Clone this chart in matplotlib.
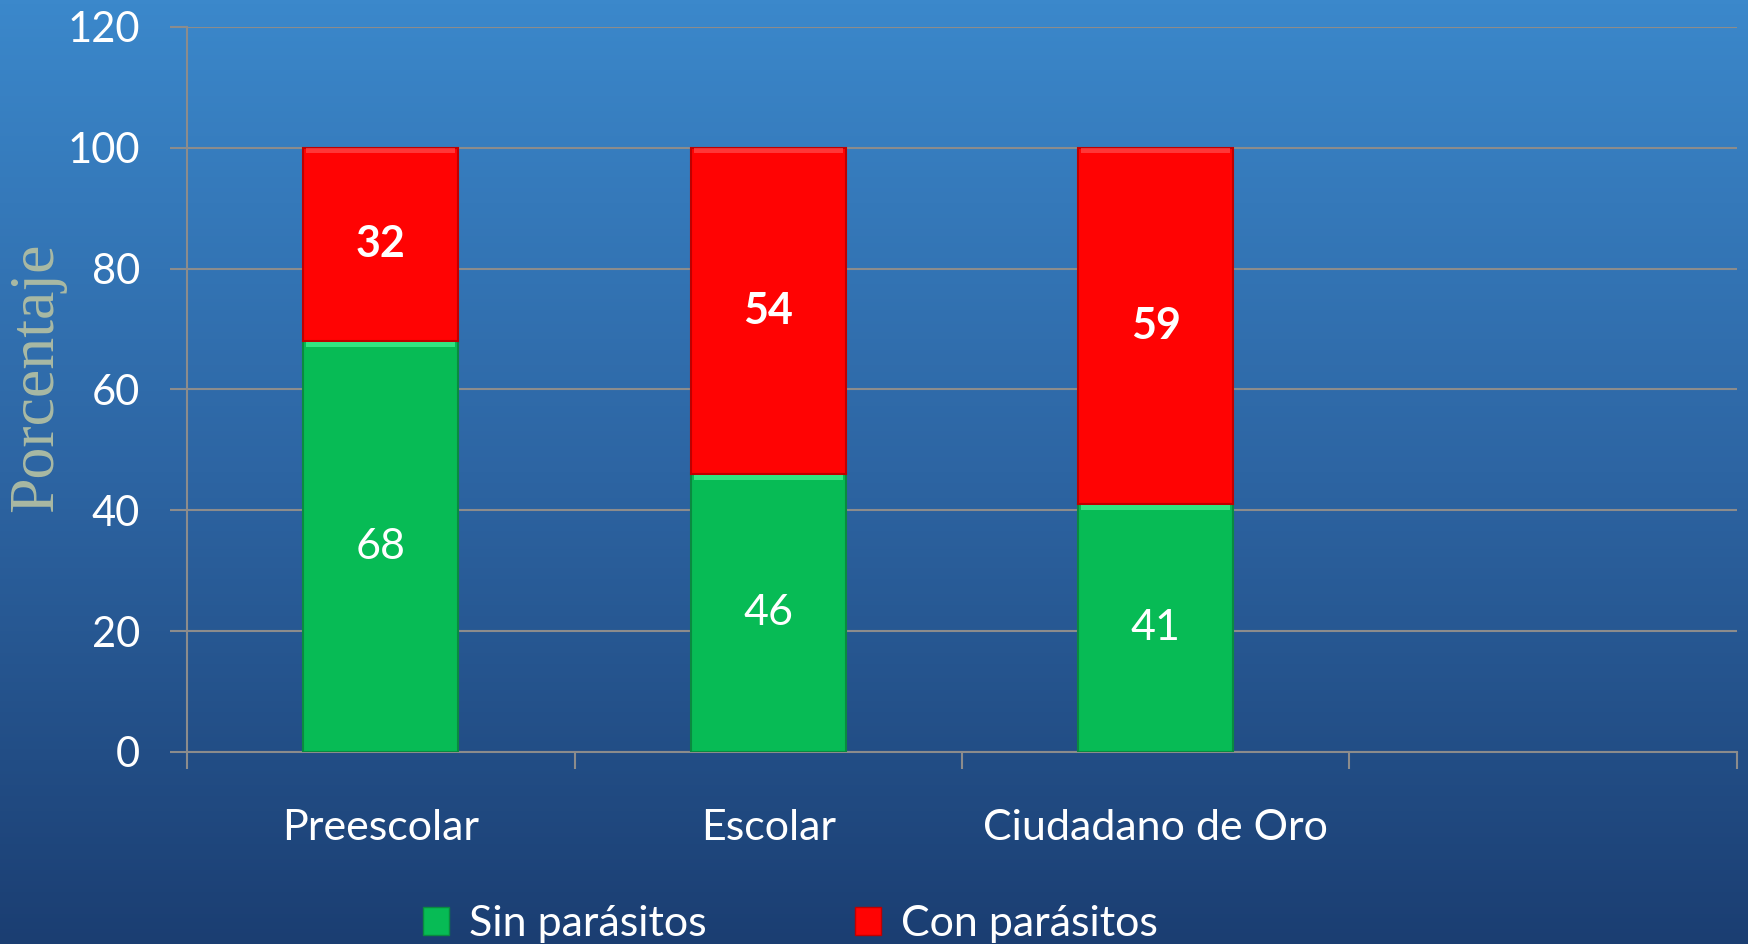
import numpy as np
import matplotlib.pyplot as plt
from matplotlib.patches import Patch
from matplotlib.colors import LinearSegmentedColormap

# datos
categorias = ['Preescolar', 'Escolar', 'Ciudadano de Oro']
sin_parasitos = [68, 46, 41]
con_parasitos = [32, 54, 59]
yticks = [0, 20, 40, 60, 80, 100, 120]
n_slots = 4

fuente = 'Lato'
verde = '#07bb55'
rojo = '#ff0303'
gris = '#8c8c8c'

fig = plt.figure(figsize=(17.48, 9.44), dpi=100)

# fondo degradado azul
bg = fig.add_axes([0, 0, 1, 1], zorder=-10)
cmap = LinearSegmentedColormap.from_list('fondo', ['#3b88cb', '#2d65a3', '#1b3e72'])
bg.imshow(np.linspace(0, 1, 256).reshape(-1, 1), aspect='auto', cmap=cmap,
          extent=[0, 1, 0, 1])
bg.axis('off')

ax = fig.add_axes([0.107, 0.2034, 0.8867, 0.768])
ax.patch.set_alpha(0)

x = np.arange(len(categorias))
ancho = 0.4
ax.bar(x, sin_parasitos, ancho, color=verde, edgecolor='#0a8a40',
       linewidth=1.5, zorder=3, label='Sin parásitos')
ax.bar(x, con_parasitos, ancho, bottom=sin_parasitos, color=rojo,
       edgecolor='#c00000', linewidth=1.5, zorder=3, label='Con parásitos')

# brillo superior de cada segmento
ax.bar(x, [0.8] * len(x), ancho * 0.96, bottom=np.array(sin_parasitos) - 0.9,
       color='#3ef08e', alpha=0.8, linewidth=0, zorder=4)
ax.bar(x, [0.8] * len(x), ancho * 0.96,
       bottom=np.array(sin_parasitos) + np.array(con_parasitos) - 0.9,
       color='#ff5a5a', alpha=0.6, linewidth=0, zorder=4)

for i in range(len(x)):
    ax.text(x[i], sin_parasitos[i] / 2, str(sin_parasitos[i]), ha='center', va='center',
            color='white', fontsize=31, family=fuente, zorder=5)
    ax.text(x[i], sin_parasitos[i] + con_parasitos[i] / 2, str(con_parasitos[i]),
            ha='center', va='center', color='white', fontsize=31, family=fuente,
            fontweight='bold', zorder=5)

ax.set_xlim(-0.5, n_slots - 0.5)
ax.set_ylim(0, 120)
ax.set_yticks(yticks)
ax.set_yticklabels([str(v) for v in yticks], family=fuente, fontsize=30, color='white')
ax.set_xticks(x)
ax.set_xticklabels(categorias, family=fuente, fontsize=31, color='white')
ax.set_xticks(np.arange(n_slots + 1) - 0.5, minor=True)
ax.tick_params(axis='x', which='major', length=0, pad=41)
ax.tick_params(axis='x', which='minor', length=12, width=1.5, color=gris)
ax.tick_params(axis='y', length=12, width=1.5, color=gris, pad=22)

ax.grid(axis='y', color=gris, linewidth=1.5, zorder=0)
for s in ['top', 'right']:
    ax.spines[s].set_visible(False)
for s in ['left', 'bottom']:
    ax.spines[s].set_color(gris)
    ax.spines[s].set_linewidth(1.5)

fig.text(0.021, 0.60, 'Porcentaje', rotation=90, ha='center', va='center',
         family='Liberation Serif', fontsize=46, color='#a9b9a3')

handles = [Patch(facecolor=verde, edgecolor='#0a8a40'),
           Patch(facecolor=rojo, edgecolor='#c00000')]
fig.legend(handles, ['Sin parásitos', 'Con parásitos'], loc='center',
           bbox_to_anchor=(0.452, 0.021), ncol=2, frameon=False,
           prop={'family': fuente, 'size': 31}, labelcolor='white',
           handlelength=0.62, handleheight=0.62, handletextpad=0.45,
           columnspacing=3.45)

fig.savefig('out.png', dpi=100)
